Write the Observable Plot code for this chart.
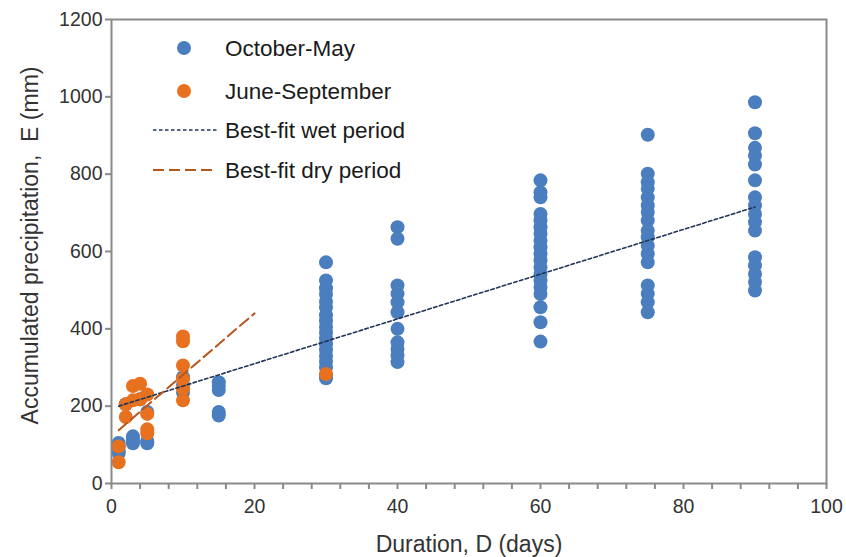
<!DOCTYPE html>
<html>
<head>
<meta charset="utf-8">
<script src="https://cdn.jsdelivr.net/npm/d3@7"></script>
<script src="https://cdn.jsdelivr.net/npm/@observablehq/plot@0.6"></script>
<style>
  html, body { margin: 0; padding: 0; background: #fff; }
  #wrap { position: relative; width: 846px; height: 557px; font-family: "Liberation Sans", Arial, sans-serif; }
  .leg { position: absolute; left: 0; top: 0; }
</style>
</head>
<body>
<div id="wrap"></div>
<script>
// Durations (days) and accumulated precipitation (mm)
const wetDurations = [1, 2, 3, 4, 5, 10, 15, 30, 40, 60, 75, 90];
const wetValues = [
  [105, 95, 85, 78],
  [205],
  [122, 112, 104],
  [218],
  [185, 110, 104],
  [275, 255, 235],
  [262, 252, 242, 185, 176],
  [572, 525, 505, 490, 470, 455, 435, 420, 405, 390, 375, 360, 345, 330, 315, 300, 280, 272],
  [663, 633, 512, 491, 469, 443, 400, 365, 348, 331, 314],
  [784, 753, 740, 697, 680, 663, 646, 628, 611, 594, 577, 559, 542, 525, 508, 490, 456, 417, 367],
  [902, 801, 779, 762, 740, 719, 702, 680, 654, 637, 615, 594, 572, 512, 491, 469, 443],
  [986, 906, 868, 848, 825, 784, 740, 719, 697, 676, 654, 585, 564, 542, 521, 499]
];
const dryDurations = [1, 2, 3, 4, 5, 10, 30];
const dryValues = [
  [96, 55],
  [205, 172],
  [252, 215],
  [258, 218],
  [230, 180, 140, 130],
  [380, 368, 305, 270, 245, 215],
  [283]
];
// Best-fit lines (end points)
const wetFitD = [1, 90];
const wetFitE = [200, 715];
const dryFitD = [1, 20];
const dryFitE = [138, 440];

const yTicks = [0, 200, 400, 600, 800, 1000, 1200];
const xTicks = d3.range(0, 101, 4);
const xLabelTicks = [0, 20, 40, 60, 80, 100];

const blue = "#4a7ebf";
const orange = "#e8711f";
const navy = "#1f3458";
const rust = "#b8561c";

const flat = (ds, vs) => ds.flatMap((d, i) => vs[i].map(e => ({D: d, E: e})));
const wet = flat(wetDurations, wetValues);
const dry = flat(dryDurations, dryValues);
const wetFit = wetFitD.map((d, i) => ({D: d, E: wetFitE[i]}));
const dryFit = dryFitD.map((d, i) => ({D: d, E: dryFitE[i]}));

const chart = Plot.plot({
  width: 846,
  height: 557,
  marginLeft: 111,
  marginRight: 20,
  marginTop: 19,
  marginBottom: 74,
  style: {fontFamily: '"Liberation Sans", Arial, sans-serif', fontSize: "19.5px", background: "#fff"},
  x: {domain: [0, 100]},
  y: {domain: [0, 1200]},
  marks: [
    Plot.dot(wet, {x: "D", y: "E", r: 7, fill: blue, stroke: "none"}),
    Plot.dot(dry, {x: "D", y: "E", r: 7, fill: orange, stroke: "none"}),
    Plot.line(wetFit, {x: "D", y: "E", stroke: navy, strokeWidth: 1.6, strokeDasharray: "3.5,2.5"}),
    Plot.line(dryFit, {x: "D", y: "E", stroke: rust, strokeWidth: 2, strokeDasharray: "11,5"}),
    Plot.frame({stroke: "#8a8a8a", strokeWidth: 2}),
    Plot.axisY({ticks: yTicks, tickSize: 6, tickPadding: 3, stroke: "#8a8a8a", strokeWidth: 2, fill: "#333", label: null, tickFormat: d => String(d)}),
    Plot.axisX({ticks: xTicks, tickSize: 6, stroke: "#8a8a8a", strokeWidth: 2, label: null, tickFormat: () => ""}),
    Plot.axisX({ticks: xLabelTicks, tickSize: 0, tickPadding: 6, dy: 10, fill: "#333", label: null, tickFormat: d => String(d)}),
    Plot.text(["Duration, D (days)"], {frameAnchor: "bottom", lineAnchor: "middle", dy: 61, fontSize: 23, fill: "#333"}),
    Plot.text(["Accumulated precipitation,  E (mm)"], {frameAnchor: "left", textAnchor: "middle", dx: -81, dy: -6, rotate: -90, fontSize: 23, fill: "#333"})
  ]
});

const wrap = document.getElementById("wrap");
wrap.appendChild(chart);

// Legend overlay
const legendItems = [
  {label: "October-May", type: "dot", color: blue, y: 48},
  {label: "June-September", type: "dot", color: orange, y: 91},
  {label: "Best-fit wet period", type: "line", color: navy, dash: "3.5,2.5", w: 1.6, y: 130},
  {label: "Best-fit dry period", type: "line", color: rust, dash: "11,5", w: 2, y: 170}
];
const ns = "http://www.w3.org/2000/svg";
const lsvg = document.createElementNS(ns, "svg");
lsvg.setAttribute("width", 846);
lsvg.setAttribute("height", 557);
lsvg.setAttribute("class", "leg");
lsvg.style.pointerEvents = "none";
for (const it of legendItems) {
  if (it.type === "dot") {
    const c = document.createElementNS(ns, "circle");
    c.setAttribute("cx", 184); c.setAttribute("cy", it.y); c.setAttribute("r", 7);
    c.setAttribute("fill", it.color);
    lsvg.appendChild(c);
  } else {
    const l = document.createElementNS(ns, "line");
    l.setAttribute("x1", 153); l.setAttribute("x2", 217);
    l.setAttribute("y1", it.y); l.setAttribute("y2", it.y);
    l.setAttribute("stroke", it.color); l.setAttribute("stroke-width", it.w);
    l.setAttribute("stroke-dasharray", it.dash);
    lsvg.appendChild(l);
  }
  const t = document.createElementNS(ns, "text");
  t.setAttribute("x", 225); t.setAttribute("y", it.y);
  t.setAttribute("dy", "0.35em");
  t.setAttribute("font-size", 22.5);
  t.setAttribute("font-family", '"Liberation Sans", Arial, sans-serif');
  t.setAttribute("fill", "#1a1a1a");
  t.textContent = it.label;
  lsvg.appendChild(t);
}
wrap.appendChild(lsvg);
</script>
</body>
</html>
